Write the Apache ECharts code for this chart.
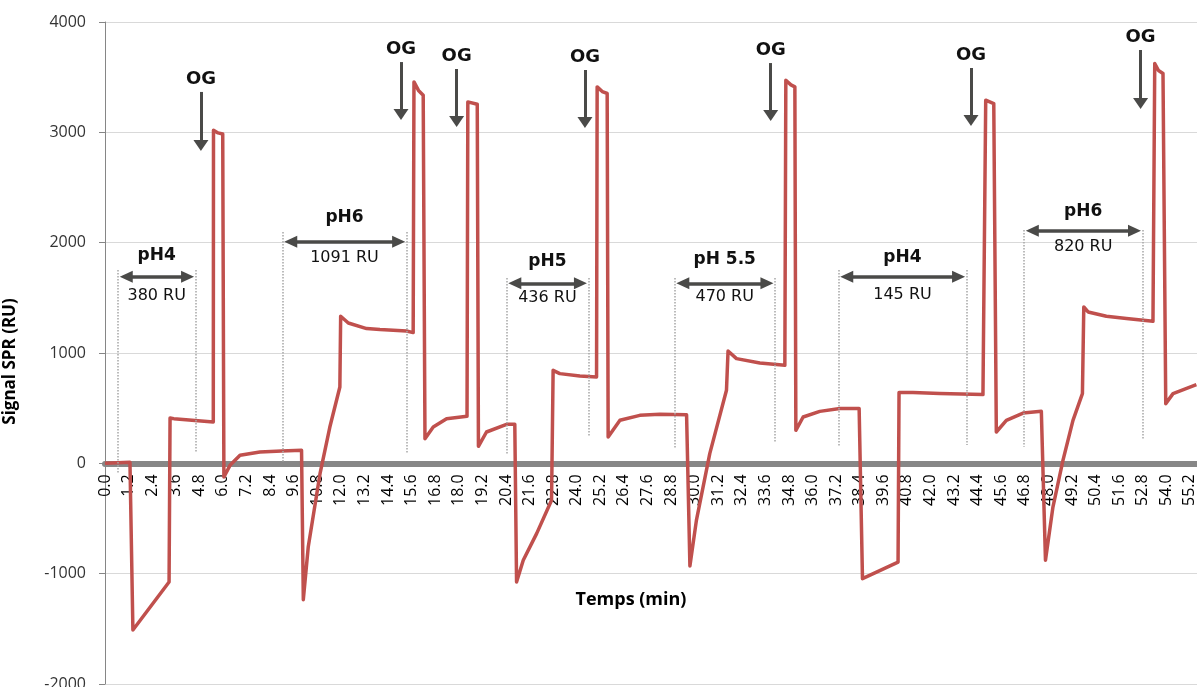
<!DOCTYPE html>
<html>
<head>
<meta charset="utf-8">
<script src="https://cdn.jsdelivr.net/npm/echarts@6/dist/echarts.min.js"></script>
<style>
  html, body { margin: 0; padding: 0; background: #fff; }
  #spr { width: 1197px; height: 687px; }
</style>
</head>
<body>
<div id="spr"></div>
<script>
// sensorgram (time in min, signal in RU)
const times = [0, 1.27, 1.30, 1.42, 3.26, 3.31, 3.5, 5.51, 5.52, 5.75,
  5.99, 6.05, 6.36, 6.87, 7.88, 8.99, 10.0, 10.09, 10.34, 10.94,
  11.44, 11.95, 11.99, 12.38, 13.31, 13.99, 15.34, 15.68, 15.72, 15.95,
  16.19, 16.28, 16.7, 17.38, 18.42, 18.46, 18.94, 19.0, 19.41, 20.43,
  20.85, 20.94, 21.28, 21.96, 22.72, 22.8, 23.14, 24.16, 25.01, 25.04,
  25.3, 25.55, 25.6, 26.2, 27.21, 28.23, 29.59, 29.76, 30.09, 30.77,
  31.62, 31.7, 32.13, 33.32, 34.59, 34.64, 34.9, 35.1, 35.15, 35.52,
  36.37, 37.39, 38.37, 38.54, 40.35, 40.4, 41.11, 42.47, 44.67, 44.81,
  45.22, 45.35, 45.86, 46.71, 47.64, 47.85, 48.23, 48.74, 49.25, 49.73,
  49.8, 50.02, 50.95, 51.97, 53.32, 53.41, 53.6, 53.83, 53.97, 54.34,
  55.53];
const signal = [0, 10, 5, -1510, -1076, 411, 405, 375, 3020, 2995,
  2985, -124, -18, 73, 103, 112, 118, -1236, -759, -94,
  329, 692, 1333, 1272, 1221, 1212, 1200, 1185, 3457, 3380,
  3336, 223, 329, 405, 426, 3276, 3255, 154, 284, 354,
  354, -1076, -879, -637, -335, 843, 813, 792, 783, 3412,
  3370, 3352, 238, 390, 435, 444, 441, -931, -517, 88,
  662, 1018, 949, 909, 888, 3472, 3430, 3412, 299, 420,
  471, 496, 496, -1045, -895, 641, 641, 632, 623, 3291,
  3261, 284, 390, 456, 471, -879, -396, 27, 390, 632,
  1417, 1372, 1333, 1312, 1287, 3624, 3560, 3533, 541, 632,
  713];

// pH injection windows
const phLabels = ['pH4', 'pH6', 'pH5', 'pH 5.5', 'pH4', 'pH6'];
const ruLabels = ['380 RU', '1091 RU', '436 RU', '470 RU', '145 RU', '820 RU'];
const phStart = [0.65, 9.02, 20.42, 28.97, 37.31, 46.75];
const phEnd = [4.61, 15.35, 24.6, 34.09, 43.84, 52.79];
const phArrowY = [1691, 2009, 1632, 1632, 1691, 2108];
const phLabelY = [1879, 2223, 1825, 1843, 1861, 2281];
const ruLabelY = [1516, 1861, 1498, 1507, 1525, 1960];
const guideTop = [1752, 2096, 1680, 1680, 1752, 2115];
const guideBottomL = [-90, 15, 75, 136, 150, 150];
const guideBottomR = [94, 91, 241, 187, 166, 218];

// OG injections (arrow x, shaft top, arrow tip)
const ogTimes = [4.88, 15.06, 17.89, 24.42, 33.87, 44.06, 52.69];
const ogTop = [3366, 3637, 3574, 3565, 3628, 3583, 3746];
const ogTip = [2831, 3112, 3048, 3039, 3103, 3057, 3211];

const xTickStep = 1.2;
const annColor = '#4a4a48';
const textColor = '#111';

// plot box; the time axis sits on the zero line, 2000 RU above the bottom
const gridTop = 22, gridBottom = 3;
const zeroShift = (687 - gridTop - gridBottom) * 2000 / 6000;

const chart = echarts.init(document.getElementById('spr'));

const curve = times.map((t, i) => [t, signal[i]]);

const guides = [];
const doubleArrows = [];
const phTexts = [];
phStart.forEach((s, i) => {
  const e = phEnd[i];
  guides.push([{ coord: [s, guideTop[i]] }, { coord: [s, guideBottomL[i]] }]);
  guides.push([{ coord: [e, guideTop[i]] }, { coord: [e, guideBottomR[i]] }]);
  doubleArrows.push([{ coord: [s + 0.43, phArrowY[i]] }, { coord: [e - 0.41, phArrowY[i]] }]);
  const mid = (s + e) / 2;
  phTexts.push({
    value: [mid, phLabelY[i]],
    label: { formatter: phLabels[i], fontSize: 17, fontWeight: 'bold' }
  });
  phTexts.push({
    value: [mid, ruLabelY[i]],
    label: { formatter: ruLabels[i], fontSize: 16, fontWeight: 'normal' }
  });
});

const ogArrows = ogTimes.map((t, i) => [
  { coord: [t, ogTop[i]] },
  { coord: [t, ogTip[i] + 50] }
]);
const ogTexts = ogTimes.map((t, i) => ({
  value: [t, ogTop[i] + 118],
  label: { formatter: 'OG', fontSize: 18, fontWeight: 'bold' }
}));

const textLabel = {
  show: true, position: 'inside', color: textColor, opacity: 1,
  fontFamily: 'DejaVu Sans'
};

const option = {
  animation: false,
  grid: {
    left: 105, right: 0, top: gridTop, bottom: gridBottom,
    containLabel: false, outerBoundsMode: 'none'
  },
  xAxis: {
    type: 'value',
    position: 'bottom',
    offset: -zeroShift,
    min: 0,
    max: 55.56,
    interval: xTickStep,
    name: 'Temps (min)',
    nameLocation: 'middle',
    nameGap: 128,
    nameTextStyle: {
      fontFamily: 'Open Sans', fontSize: 18, fontWeight: 'bold', color: '#000',
      padding: [0, 40, 0, 0]
    },
    axisLine: { onZero: false, lineStyle: { color: '#878787', width: 6 } },
    axisTick: { show: false },
    splitLine: { show: false },
    axisLabel: {
      rotate: 90,
      margin: 11,
      showMaxLabel: false,
      fontFamily: 'Open Sans',
      fontSize: 16,
      color: '#000',
      formatter: v => v.toFixed(1)
    }
  },
  yAxis: {
    type: 'value',
    min: -2000,
    max: 4000,
    interval: 1000,
    name: 'Signal SPR (RU)',
    nameLocation: 'middle',
    nameGap: 86,
    nameTextStyle: {
      fontFamily: 'Open Sans', fontSize: 17, fontWeight: 'bold', color: '#000',
      padding: [0, 17, 0, 0]
    },
    axisLine: { show: true, onZero: false, lineStyle: { color: '#868686', width: 1 } },
    axisTick: { show: true, length: 6, lineStyle: { color: '#868686' } },
    splitLine: { lineStyle: { color: '#d9d9d9', width: 1 } },
    axisLabel: {
      margin: 19, fontFamily: 'Open Sans', fontSize: 16, color: '#333',
      formatter: v => String(v)
    }
  },
  series: [
    {
      name: 'Signal',
      type: 'line',
      data: curve,
      showSymbol: false,
      z: 3,
      lineStyle: { color: '#c0504d', width: 3.5, join: 'round' },
      emphasis: { disabled: true }
    },
    {
      name: 'pH',
      type: 'scatter',
      symbolSize: 0,
      z: 4,
      data: phTexts,
      itemStyle: { opacity: 1 },
      label: textLabel,
      emphasis: { disabled: true },
      markLine: {
        silent: true,
        animation: false,
        label: { show: false },
        emphasis: { disabled: true },
        symbol: ['none', 'none'],
        lineStyle: { color: '#a6a6a6', width: 1.5, type: 'dotted' },
        data: guides
      }
    },
    {
      name: 'pHArrows',
      type: 'scatter',
      symbolSize: 0,
      data: [],
      z: 4,
      markLine: {
        silent: true,
        animation: false,
        label: { show: false },
        emphasis: { disabled: true },
        symbol: ['triangle', 'triangle'],
        symbolSize: [12, 13],
        lineStyle: { color: annColor, width: 3.5, type: 'solid', opacity: 1 },
        itemStyle: { color: annColor, opacity: 1 },
        data: doubleArrows
      }
    },
    {
      name: 'OG',
      type: 'scatter',
      symbolSize: 0,
      z: 4,
      data: ogTexts,
      itemStyle: { opacity: 1 },
      label: textLabel,
      emphasis: { disabled: true },
      markLine: {
        silent: true,
        animation: false,
        label: { show: false },
        emphasis: { disabled: true },
        symbol: ['none', 'triangle'],
        symbolSize: [15, 11],
        lineStyle: { color: annColor, width: 3, type: 'solid', opacity: 1 },
        itemStyle: { color: annColor, opacity: 1 },
        data: ogArrows
      }
    }
  ]
};

chart.setOption(option);
window.addEventListener('resize', () => chart.resize());
</script>
</body>
</html>
